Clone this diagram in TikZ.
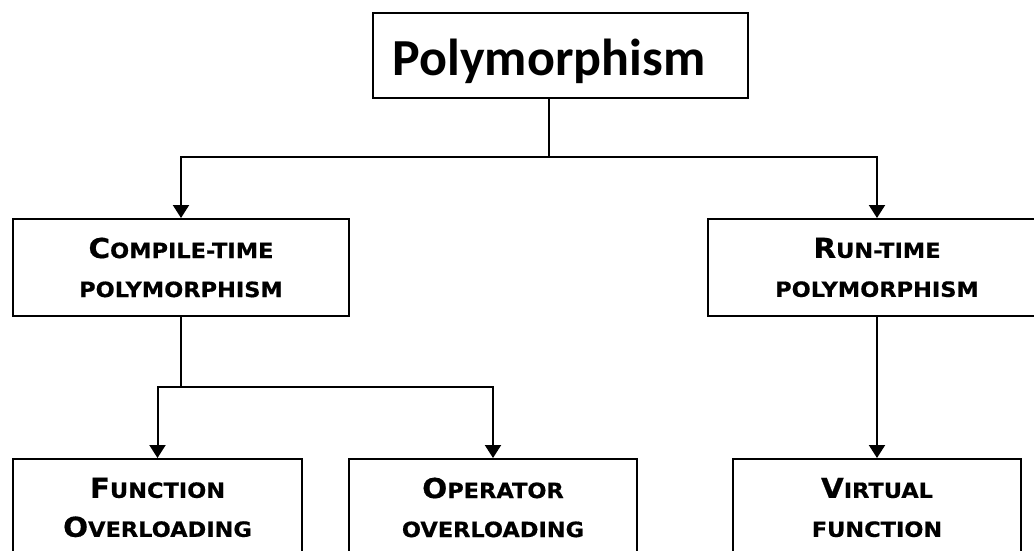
\documentclass[tikz,border=0pt]{standalone}
\usepackage{fontspec}
\usetikzlibrary{arrows.meta}
\newfontfamily\titlefont{Carlito}
\newfontfamily\capfont{DejaVu Sans Bold}[FakeStretch=1.07, FakeBold=0.6]
\newcommand\BigL[1]{{\fontsize{27.5}{39}\selectfont #1}}
\tikzset{
  box/.style={draw=black, line width=2pt, rectangle, inner sep=0pt, fill=white,
    minimum height=97pt, align=center,
    font=\capfont\fontsize{21}{39}\selectfont},
  conn/.style={line width=2pt, draw=black},
  arr/.style={conn, -{Triangle[width=16pt,length=13pt]}}
}
\begin{document}
\begin{tikzpicture}[x=1pt,y=-1pt]
\useasboundingbox (0,0) rectangle (1034,550);
\clip (0,0) rectangle (1034,550);
\fill[white] (0,0) rectangle (1034,550);
% title box
\node[draw=black, line width=2pt, rectangle, inner sep=0pt, minimum width=375pt, minimum height=85pt] (poly) at (560.5,55.5) {};
\node[anchor=base, inner sep=0pt, font=\titlefont\bfseries\fontsize{52}{52}\selectfont] (polyt) at (549,75) {Polymorphism};
% level 2
\node[box, minimum width=336pt] (comp) at (181,267.5) {\BigL{C}OMPILE-TIME\\POLYMORPHISM};
\node[box, minimum width=338pt] (run) at (877,267.5) {\BigL{R}UN-TIME\\POLYMORPHISM};
% level 3
\node[box, minimum width=289pt] (func) at (157.5,507.5) {\BigL{F}UNCTION\\\BigL{O}VERLOADING};
\node[box, minimum width=288pt] (oper) at (493,507.5) {\BigL{O}PERATOR\\OVERLOADING};
\node[box, minimum width=288pt] (virt) at (877,507.5) {\BigL{V}IRTUAL\\FUNCTION};
% hubs
\coordinate (hubA) at (549,157);
\coordinate (hubB) at (181,387);
\draw[conn] (polyt |- poly.south) -- (hubA);
\draw[arr] (hubA) -| (comp.north);
\draw[arr] (hubA) -| (run.north);
\draw[conn] (comp.south) -- (hubB);
\draw[arr] (hubB) -| (func.north);
\draw[arr] (hubB) -| (oper.north);
\draw[arr] (run.south) -- (virt.north);
\end{tikzpicture}
\end{document}
